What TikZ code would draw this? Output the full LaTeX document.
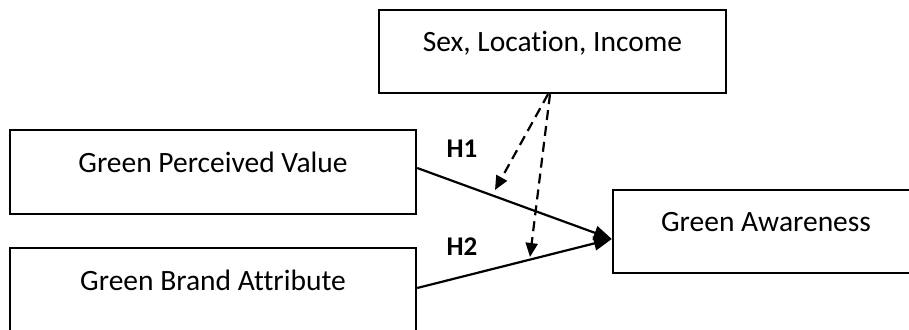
\documentclass[tikz,border=0pt]{standalone}
\usepackage{fontspec}
\setmainfont[Ligatures=NoCommon]{Carlito}
\usetikzlibrary{arrows.meta}
\begin{document}
\begin{tikzpicture}[x=1pt,y=-1pt,
  boxnode/.style={draw=black, line width=2.4pt, rectangle, inner sep=0pt,
    text height=20pt, text depth=20pt, font=\fontsize{29.5}{34}\selectfont},
  hlabel/.style={font=\fontsize{27}{32}\selectfont\bfseries, inner sep=0pt},
  solidarrow/.style={line width=2.2pt, -{Triangle[length=18pt,width=14pt]}},
  dasharrow/.style={line width=2.2pt, dash pattern=on 10pt off 6pt, -{Triangle[length=14pt,width=12pt]}}
]
\useasboundingbox (0,0) rectangle (909,329);
\node[boxnode, minimum width=347pt, minimum height=83pt] (mod) at (552.5,51.5) {Sex, Location, Income};
\node[boxnode, minimum width=406pt, minimum height=84pt] (gpv) at (213,172) {Green Perceived Value};
\node[boxnode, minimum width=406pt, minimum height=84pt] (gba) at (213,290) {Green Brand Attribute};
\node[boxnode, minimum width=306pt, minimum height=83pt] (ga) at (766,231.5) {Green Awareness};
\node[hlabel] (h1) at (462,149) {H1};
\node[hlabel] (h2) at (462,246.5) {H2};
\coordinate (m1) at (495,190);
\coordinate (m2) at (530,257);
\draw[solidarrow] ([yshift=4pt]gpv.east) -- ([yshift=-7.5pt]ga.west);
\draw[solidarrow] ([yshift=2pt]gba.east) -- ([yshift=-7.5pt]ga.west);
\draw[dasharrow] ([xshift=-4.5pt]mod.south) -- (m1);
\draw[dasharrow] ([xshift=-2.5pt]mod.south) -- (m2);
\end{tikzpicture}
\end{document}
